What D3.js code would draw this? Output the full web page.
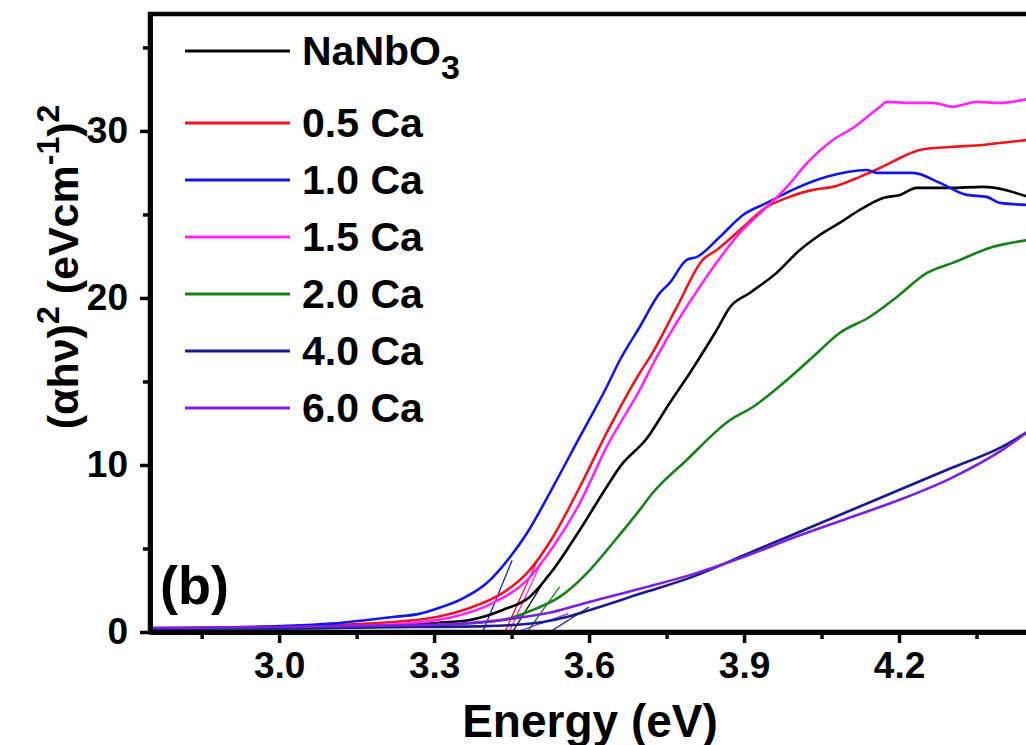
<!DOCTYPE html>
<html>
<head>
<meta charset="utf-8">
<script src="https://cdn.jsdelivr.net/npm/d3@7"></script>
<style>
  body { margin: 0; background: #fff; }
  svg text { font-family: 'Liberation Sans', Arial, sans-serif; font-weight: bold; fill: #000; }
</style>
</head>
<body>
<div id="chart"></div>
<script>
// series: [energy (eV), (ahv)^2]
var naNbO3 = [[2.75,0.15],[3.0,0.22],[3.2,0.35],[3.305,0.54],[3.369,0.72],[3.433,1.32],[3.485,2.1],[3.53,3.71],[3.582,6.11],[3.634,8.68],[3.66,9.9],[3.712,11.6],[3.756,13.71],[3.795,15.51],[3.847,18.08],[3.873,19.46],[3.911,20.3],[3.963,21.5],[4.008,22.87],[4.041,23.65],[4.085,24.49],[4.124,25.27],[4.169,25.99],[4.202,26.17],[4.234,26.59],[4.298,26.59],[4.362,26.65],[4.45,26.05]]
var ca05 = [[2.75,0.2],[3.0,0.3],[3.17,0.5],[3.305,0.9],[3.369,1.44],[3.433,2.34],[3.485,3.71],[3.53,5.69],[3.582,8.68],[3.634,11.92],[3.698,15.51],[3.718,16.47],[3.77,19.46],[3.82,22.28],[3.847,22.87],[3.892,24.07],[3.944,25.45],[3.983,25.99],[4.033,26.47],[4.072,26.65],[4.124,27.25],[4.163,27.78],[4.202,28.38],[4.24,28.86],[4.298,29.04],[4.362,29.16],[4.395,29.28],[4.45,29.46]]
var ca10 = [[2.75,0.2],[2.9,0.27],[3.0,0.35],[3.1,0.5],[3.17,0.72],[3.22,0.9],[3.273,1.1],[3.3,1.35],[3.35,1.92],[3.402,2.93],[3.447,4.49],[3.48,5.93],[3.53,8.68],[3.582,11.68],[3.634,14.67],[3.66,16.3],[3.698,18.26],[3.737,20.3],[3.756,20.9],[3.789,22.28],[3.809,22.46],[3.853,23.65],[3.898,24.97],[3.944,25.69],[3.994,26.47],[4.06,27.25],[4.138,27.66],[4.157,27.49],[4.227,27.49],[4.279,26.89],[4.331,26.17],[4.37,26.05],[4.395,25.69],[4.45,25.57]]
var ca15 = [[2.75,0.2],[3.0,0.28],[3.2,0.42],[3.336,0.9],[3.414,1.74],[3.48,3.11],[3.53,5.09],[3.582,7.72],[3.634,11.08],[3.698,14.49],[3.731,16.47],[3.814,20.66],[3.892,23.89],[3.944,25.45],[3.983,26.65],[4.022,28.08],[4.072,29.46],[4.111,30.18],[4.163,31.44],[4.176,31.74],[4.221,31.68],[4.265,31.68],[4.304,31.44],[4.35,31.74],[4.395,31.68],[4.45,31.92]]
var ca20 = [[2.75,0.15],[3.0,0.2],[3.2,0.3],[3.3,0.4],[3.433,0.72],[3.491,1.32],[3.543,2.1],[3.596,3.53],[3.646,5.33],[3.698,7.31],[3.723,8.32],[3.789,10.3],[3.873,12.69],[3.917,13.47],[3.983,15.09],[4.033,16.47],[4.085,17.9],[4.143,18.86],[4.196,20.06],[4.254,21.5],[4.304,22.1],[4.381,23.05],[4.45,23.47]]
var ca40 = [[2.75,0.2],[3.0,0.22],[3.2,0.28],[3.4,0.35],[3.5,0.55],[3.55,0.85],[3.6,1.3],[3.7,2.3],[3.8,3.3],[3.9,4.6],[4.0,5.9],[4.1,7.2],[4.2,8.5],[4.3,9.8],[4.4,11.1],[4.45,12.0]]
var ca60 = [[2.75,0.25],[3.0,0.3],[3.2,0.38],[3.35,0.5],[3.45,0.8],[3.53,1.2],[3.6,1.8],[3.7,2.6],[3.8,3.45],[3.9,4.5],[4.0,5.7],[4.1,6.8],[4.2,7.9],[4.3,9.2],[4.4,10.9],[4.45,12.0]]

// thin extrapolation lines to the energy axis
var tangents = [
    [[3.452,0],[3.52,3.4]],
    [[3.437,0],[3.5,4.3]],
    [[3.394,0],[3.451,4.3]],
    [[3.445,0],[3.505,4.0]],
    [[3.48,0],[3.543,2.7]],
    [[3.524,0],[3.6,1.5]],
    [[3.46,0],[3.56,1.1]]
]

var series = [naNbO3, ca05, ca10, ca15, ca20, ca40, ca60]
var names = ['NaNbO', '0.5 Ca', '1.0 Ca', '1.5 Ca', '2.0 Ca', '4.0 Ca', '6.0 Ca']
var colors = ['#000000', '#ec1520', '#1414e6', '#ff26ff', '#1a801a', '#1a1a8c', '#7b20e0']

var xTicks = [3.0, 3.3, 3.6, 3.9, 4.2]
var xMinor = [2.85, 3.15, 3.45, 3.75, 4.05, 4.35]
var yTicks = [0, 10, 20, 30]
var yMinor = [5, 15, 25, 35]

var width = 1026,
    height = 745,
    plotLeft = 150,
    plotTop = 14,
    plotBottom = 632,
    plotRight = 1054;

var svg = d3.select('#chart')
    .append('svg')
    .attr('width', width)
    .attr('height', height)

// scales
var xscale = d3.scaleLinear()
    .domain([2.75, 4.5])
    .range([plotLeft, plotRight])

var yscale = d3.scaleLinear()
    .domain([0, 37])
    .range([plotBottom, plotTop])

// frame (right side runs off the picture)
svg.append('rect')
    .attr('x', plotLeft)
    .attr('y', plotTop)
    .attr('width', plotRight - plotLeft)
    .attr('height', plotBottom - plotTop)
    .attr('fill', 'none')
    .attr('stroke', '#000')
    .attr('stroke-width', 4.5)

// curves
var line = d3.line()
    .x(d => xscale(d[0]))
    .y(d => yscale(d[1]))
    .curve(d3.curveMonotoneX)

svg.selectAll('.tangent')
    .data(tangents)
    .enter()
    .append('path')
    .attr('class', 'tangent')
    .attr('d', d3.line().x(d => xscale(d[0])).y(d => yscale(d[1])))
    .attr('fill', 'none')
    .attr('stroke', (d, i) => colors[i])
    .attr('stroke-width', 1.3)

svg.selectAll('.curve')
    .data(series)
    .enter()
    .append('path')
    .attr('class', 'curve')
    .attr('d', line)
    .attr('fill', 'none')
    .attr('stroke', (d, i) => colors[i])
    .attr('stroke-width', 2.6)
    .attr('stroke-linejoin', 'round')

// axes
function styleAxis(g, width) {
    g.select('.domain').attr('stroke-width', width)
    g.selectAll('.tick line').attr('stroke-width', 3.5)
    g.selectAll('.tick text').style('font-size', '37px')
}

svg.append('g')
    .attr('transform', 'translate(0,' + plotBottom + ')')
    .call(d3.axisBottom(xscale).tickValues(xMinor).tickFormat('').tickSize(7).tickSizeOuter(0))
    .call(g => styleAxis(g, 5))
svg.append('g')
    .attr('transform', 'translate(0,' + plotBottom + ')')
    .call(d3.axisBottom(xscale).tickValues(xTicks).tickFormat(d3.format('.1f')).tickSize(11).tickPadding(9).tickSizeOuter(0))
    .call(g => styleAxis(g, 5))

svg.append('g')
    .attr('transform', 'translate(' + plotLeft + ',0)')
    .call(d3.axisLeft(yscale).tickValues(yMinor).tickFormat('').tickSize(7).tickSizeOuter(0))
    .call(g => styleAxis(g, 4.5))
svg.append('g')
    .attr('transform', 'translate(' + plotLeft + ',0)')
    .call(d3.axisLeft(yscale).tickValues(yTicks).tickSize(10).tickPadding(12).tickSizeOuter(0))
    .call(g => styleAxis(g, 4.5))

// axis titles
svg.append('text')
    .attr('x', 590)
    .attr('y', 737)
    .attr('text-anchor', 'middle')
    .style('font-size', '46px')
    .text('Energy (eV)')

var ytitle = svg.append('text')
    .attr('transform', 'translate(78,267) rotate(-90)')
    .attr('text-anchor', 'middle')
    .style('font-size', '43px')
ytitle.append('tspan').text('(\u03b1h\u03bd)')
ytitle.append('tspan').attr('dy', -19).style('font-size', '32px').text('2')
ytitle.append('tspan').attr('dy', 19).text('\u00a0(eVcm')
ytitle.append('tspan').attr('dy', -19).style('font-size', '32px').text('-1')
ytitle.append('tspan').attr('dy', 19).text(')')
ytitle.append('tspan').attr('dy', -19).style('font-size', '32px').text('2')

// panel label
svg.append('text')
    .attr('x', 160)
    .attr('y', 604)
    .style('font-size', '54px')
    .text('(b)')

// legend
var legendY = names.map((d, i) => i === 0 ? 51 : 123 + (i - 1) * 57)
var legend = svg.selectAll('.legend')
    .data(names)
    .enter()
    .append('g')
    .attr('class', 'legend')
    .attr('transform', (d, i) => 'translate(0,' + legendY[i] + ')')

legend.append('line')
    .attr('x1', 185)
    .attr('x2', 290)
    .attr('stroke', (d, i) => colors[i])
    .attr('stroke-width', 3)

var ltext = legend.append('text')
    .attr('x', 302)
    .attr('y', 14)
    .style('font-size', '41px')
    .text(d => d)
ltext.filter((d, i) => i === 0)
    .append('tspan')
    .attr('dy', 14)
    .style('font-size', '34px')
    .text('3')
</script>
</body>
</html>
